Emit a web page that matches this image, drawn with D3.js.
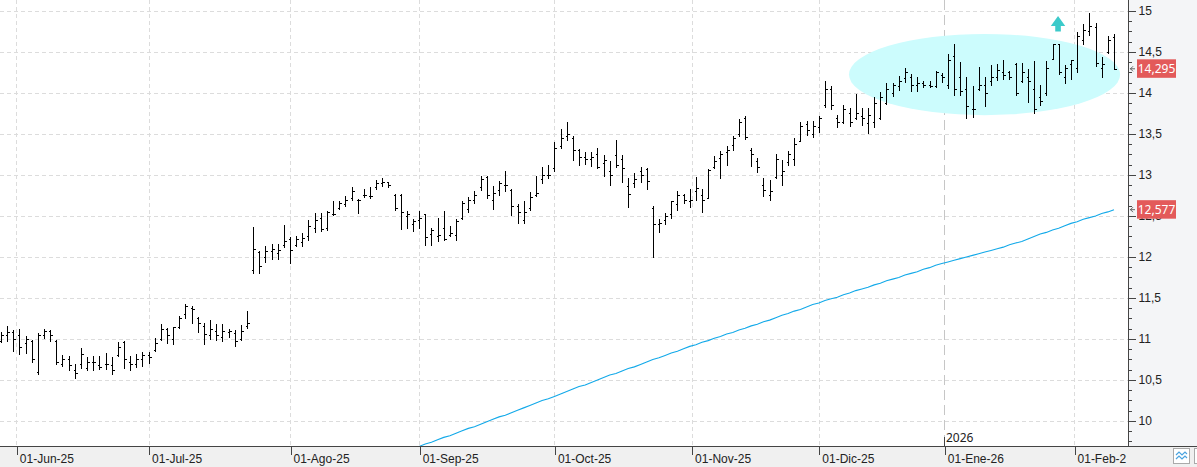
<!DOCTYPE html>
<meta charset="utf-8">
<style>
body { margin: 0; background: #fff; }
svg { display: block; font-family: "Noto Sans", "Open Sans", sans-serif; }
.grid line { stroke: #dcdcdc; stroke-dasharray: 4,3; shape-rendering: crispEdges; }
.bar { stroke: #000; fill: none; shape-rendering: crispEdges; }
.axis text { font-size: 12px; fill: #222; }
.axis line, .axis path { stroke: #444; shape-rendering: crispEdges; }
</style>
<body>
<script src="https://d3js.org/d3.v7.min.js"></script>
<script>

// month ticks (bar index of the first session of each month)
var tickLabels = ["01-Jun-25", "01-Jul-25", "01-Ago-25", "01-Sep-25", "01-Oct-25",
                  "01-Nov-25", "01-Dic-25", "01-Ene-26", "01-Feb-2"];
var tickIdx = [2.5, 24, 47, 68, 90, 112.3, 133, 153.4, 174.5];

// daily OHLC, one value per session
var highs = [11.10,11.17,11.12,11.14,11.05,11.00,11.09,11.13,11.12,11.00, 10.82,10.81,10.71,10.90,10.79,10.80,10.80,10.84,10.79,10.97,
  10.99,10.81,10.83,10.85,10.85,11.03,11.19,11.15,11.16,11.29, 11.44,11.42,11.28,11.21,11.24,11.19,11.19,11.14,11.12,11.18, 11.35,
  12.38,12.09,12.15,12.17,12.17,12.40,12.26,12.27,12.31,12.46, 12.55,12.55,12.57,12.69,12.70,12.76,12.86,12.72,12.84,12.86,
  12.95,12.98,12.93,12.78,12.78,12.57,12.47,12.57,12.53,12.37, 12.49,12.57,12.39,12.47,12.69,12.74,12.82,13.00,13.00,12.88,
  12.94,13.06,12.84,12.66,12.70,12.80,13.00,
  13.11,13.13,13.42,13.57,13.66,13.49,13.33,13.29,13.29,13.34, 13.26,13.18,13.44,13.26,12.97,13.04,13.11,13.10,12.63,12.47,
  12.55,12.70,12.82,12.78,12.84,12.99,12.84,13.08,13.24,13.31, 13.37,13.49,13.70,13.73,13.34,13.22,12.97,12.95,13.27,13.19,
  13.31,13.46,13.66,13.67,13.67,13.73,14.16,14.10,13.74,
  13.87,13.83,14.00,13.83,13.83,13.96,14.02,14.14,14.14,14.22, 14.32,14.24,14.21,14.16,14.16,14.28,14.25,14.49,14.61,14.39,
  14.21,14.10,14.33,14.21,14.35,14.37,14.41,14.28,14.38,14.38, 14.30,14.40,14.11,14.40,14.61,14.61,14.35,14.42,14.76,14.85,
  14.99,14.87,14.45,14.71,14.73];

var lows = [10.96,10.97,10.85,10.82,10.83,10.72,10.57,11.01,10.97,10.70, 10.67,10.62,10.52,10.65,10.62,10.62,10.64,10.64,10.57,10.79,
  10.65,10.62,10.66,10.67,10.71,10.85,10.99,10.95,10.94,11.13, 11.25,11.20,11.08,10.94,11.00,10.99,10.97,11.03,10.91,10.99, 11.14,
  11.81,11.80,11.94,11.97,11.98,12.12,11.93,12.13,12.13,12.21, 12.30,12.32,12.33,12.51,12.59,12.62,12.70,12.54,12.73,12.72,
  12.83,12.87,12.85,12.57,12.34,12.35,12.32,12.35,12.15,12.15, 12.19,12.21,12.25,12.21,12.46,12.55,12.66,12.82,12.72,12.58,
  12.76,12.80,12.51,12.41,12.41,12.57,12.74,
  12.90,12.96,13.05,13.33,13.43,13.18,13.12,13.14,13.11,13.08, 12.99,12.88,13.10,12.91,12.61,12.85,12.91,12.83,12.00,12.30,
  12.40,12.48,12.57,12.66,12.61,12.70,12.55,12.72,13.09,12.96, 13.12,13.31,13.47,13.44,13.11,13.04,12.74,12.70,12.96,12.88,
  13.12,13.12,13.41,13.49,13.46,13.52,13.83,13.81,13.58,
  13.63,13.60,13.68,13.61,13.51,13.59,13.68,13.87,13.96,14.04, 14.14,14.02,14.02,14.07,14.07,14.07,14.14,14.06,13.97,13.97,
  13.69,13.71,14.04,13.84,14.10,14.16,14.17,14.17,13.97,14.13, 13.89,13.76,13.85,13.97,14.41,14.23,14.12,14.17,14.26,14.60,
  14.71,14.33,14.19,14.49,14.29];

var opens = [10.98,11.05,11.08,11.05,10.95,10.98,10.60,11.05,11.10,10.98, 10.70,10.75,10.62,10.70,10.65,10.72,10.68,10.70,10.68,10.80,
  10.96,10.72,10.70,10.76,10.80,10.86,11.00,11.12,11.00,11.15, 11.30,11.38,11.25,11.16,11.05,11.10,11.02,11.08,11.07,11.00, 11.16,
  11.84,12.06,12.00,12.07,12.05,12.15,12.22,12.15,12.18,12.25, 12.35,12.48,12.35,12.52,12.60,12.65,12.72,12.70,12.75,12.74,
  12.85,12.90,12.92,12.76,12.75,12.50,12.40,12.45,12.52,12.28, 12.25,12.35,12.27,12.27,12.47,12.58,12.70,12.85,12.98,12.70,
  12.82,12.88,12.82,12.62,12.45,12.60,12.75,
  12.95,13.00,13.08,13.35,13.47,13.45,13.30,13.22,13.20,13.25, 13.15,13.05,13.24,13.20,12.86,12.90,13.05,13.07,12.60,12.40,
  12.45,12.52,12.65,12.75,12.68,12.80,12.75,12.72,13.10,13.21, 13.28,13.37,13.50,13.70,13.30,13.17,12.88,12.75,12.98,13.00,
  13.16,13.20,13.42,13.62,13.50,13.58,13.85,14.05,13.70,
  13.65,13.75,13.70,13.72,13.63,13.65,13.70,13.88,14.00,14.08, 14.18,14.20,14.10,14.12,14.10,14.08,14.22,14.10,14.45,14.20,
  14.05,13.80,14.05,14.10,14.15,14.20,14.25,14.25,14.35,14.15, 14.20,14.05,13.95,14.00,14.42,14.60,14.20,14.35,14.30,14.65,
  14.75,14.80,14.30,14.50,14.68];

var closes = [11.05,11.08,11.00,10.90,11.00,10.75,11.05,11.10,11.05,10.72, 10.75,10.68,10.58,10.82,10.72,10.72,10.66,10.70,10.62,10.90,
  10.75,10.70,10.76,10.80,10.78,10.95,11.12,11.05,11.15,11.25, 11.40,11.37,11.20,11.06,11.12,11.05,11.10,11.10,10.98,11.10, 11.19,
  12.10,11.89,12.07,12.10,12.08,12.20,12.08,12.22,12.23,12.38, 12.45,12.34,12.55,12.52,12.66,12.70,12.80,12.70,12.75,12.74,
  12.90,12.92,12.88,12.60,12.55,12.52,12.44,12.47,12.24,12.33, 12.27,12.22,12.29,12.44,12.66,12.70,12.75,12.95,12.76,12.78,
  12.90,12.88,12.62,12.55,12.55,12.73,12.78,
  13.00,13.00,13.33,13.45,13.50,13.30,13.22,13.20,13.22,13.10, 13.18,13.00,13.12,13.08,12.77,12.95,13.00,12.93,12.40,12.42,
  12.50,12.68,12.76,12.70,12.70,12.84,12.70,13.06,13.17,13.25, 13.30,13.45,13.65,13.46,13.25,13.10,12.82,12.80,13.20,13.05,
  13.25,13.38,13.60,13.55,13.60,13.70,14.05,13.85,13.65,
  13.80,13.65,13.76,13.70,13.73,13.88,13.95,14.05,14.10,14.15, 14.25,14.10,14.12,14.10,14.08,14.25,14.20,14.40,14.05,14.03,
  13.84,13.80,14.10,14.00,14.20,14.28,14.22,14.20,14.00,14.25, 14.15,13.80,13.90,14.30,14.60,14.25,14.30,14.40,14.70,14.77,
  14.82,14.37,14.35,14.65,14.295];

// moving average, starting at session maStart
var maStart = 66;
var maValues = [9.64,9.67,9.69,9.72,9.74,9.77,9.80,9.82,9.85,9.88,
  9.91,9.93,9.96,9.99,10.02,10.05,10.07,10.10,10.13,10.16,
  10.19,10.22,10.25,10.27,10.30,10.33,10.36,10.39,10.42,10.44,
  10.47,10.50,10.53,10.56,10.58,10.61,10.64,10.66,10.69,10.72,
  10.75,10.77,10.80,10.83,10.85,10.88,10.91,10.93,10.96,10.98,
  11.01,11.03,11.06,11.08,11.11,11.13,11.16,11.18,11.21,11.23,
  11.26,11.29,11.31,11.34,11.36,11.39,11.42,11.44,11.47,11.49,
  11.51,11.54,11.56,11.59,11.61,11.63,11.66,11.68,11.71,11.73,
  11.75,11.78,11.80,11.82,11.85,11.87,11.90,11.92,11.94,11.96,
  11.98,12.00,12.02,12.04,12.06,12.08,12.10,12.12,12.15,12.17,
  12.19,12.22,12.25,12.28,12.30,12.33,12.35,12.38,12.41,12.43,
  12.46,12.48,12.50,12.53,12.55,12.577];

// last-value labels
var lastLabels = [{v: 14.295, text: "14,295"}, {v: 12.577, text: "12,577"}];

// annotations: range ellipse and breakout arrow (bar index / price)
var zoneIdx = [137.9, 182], zoneVal = [13.73, 14.72];
var arrowIdx = 171.9, arrowVal = [14.94, 14.75];

var W = 1197, H = 467;
var plotR = 1128, plotB = 446;

var svg = d3.select("body").append("svg").attr("width", W).attr("height", H);

var x = d3.scaleLinear().domain([0, highs.length - 1]).range([1, 1114]);
var y = d3.scaleLinear().domain([9.695, 15]).range([plotB, 11]);
var px = function(i) { return Math.round(x(i)) + 0.5; };
var py = function(v) { return Math.round(y(v)) + 0.5; };

// panels
svg.append("rect").attr("x", plotR).attr("y", 0).attr("width", W - plotR).attr("height", plotB).attr("fill", "#f4f5f7");
svg.append("rect").attr("x", 0).attr("y", plotB).attr("width", W).attr("height", H - plotB).attr("fill", "#f0f0f0");

svg.append("clipPath").attr("id", "plot").append("rect")
  .attr("x", 0).attr("y", 0).attr("width", plotR).attr("height", plotB);
var plot = svg.append("g").attr("clip-path", "url(#plot)");

// grid
var majors = d3.range(10, 15.01, 0.5);
var grid = plot.append("g").attr("class", "grid");
grid.selectAll(".h").data(majors).enter().append("line")
  .attr("x1", 0).attr("x2", plotR).attr("y1", d => py(d)).attr("y2", d => py(d));
grid.selectAll(".v").data(tickIdx).enter().append("line")
  .attr("x1", d => px(d)).attr("x2", d => px(d)).attr("y1", 0).attr("y2", plotB)
  .style("stroke", (d, i) => tickLabels[i].indexOf("Ene") >= 0 ? "#c6c6c6" : null)
  .style("stroke-dasharray", (d, i) => tickLabels[i].indexOf("Ene") >= 0 ? "10,5" : null);

// range ellipse
plot.append("ellipse")
  .attr("cx", (x(zoneIdx[0]) + x(zoneIdx[1])) / 2)
  .attr("cy", (y(zoneVal[0]) + y(zoneVal[1])) / 2)
  .attr("rx", (x(zoneIdx[1]) - x(zoneIdx[0])) / 2)
  .attr("ry", (y(zoneVal[0]) - y(zoneVal[1])) / 2)
  .attr("fill", "#ccfcfd");

// arrow
var ax = x(arrowIdx), aTop = y(arrowVal[0]), aBot = y(arrowVal[1]);
plot.append("path")
  .attr("d", "M" + ax + "," + aTop + "L" + (ax + 7.2) + "," + (aTop + 10) + "H" + (ax + 2.8) +
             "V" + aBot + "H" + (ax - 2.8) + "V" + (aTop + 10) + "H" + (ax - 7.2) + "Z")
  .attr("fill", "#3ccaca");

// moving average
var ma = maValues.map((v, k) => [maStart + k, v]);
plot.append("path").datum(ma)
  .attr("fill", "none").attr("stroke", "#12a9e9").attr("stroke-width", 1.1)
  .attr("d", d3.line().x(d => x(d[0])).y(d => y(d[1])));

// OHLC bars
plot.selectAll(".bar").data(highs).enter().append("path")
  .attr("class", "bar")
  .attr("d", function(h, i) {
    var cx = px(i);
    return "M" + cx + "," + py(h) + "V" + py(lows[i]) +
           "M" + (cx - 2) + "," + py(opens[i]) + "H" + cx +
           "M" + cx + "," + py(closes[i]) + "H" + (cx + 2);
  });

// bottom axis
var xAxis = d3.axisBottom(x).tickValues(tickIdx).tickSize(9).tickFormat((d, i) => tickLabels[i]);
var gx = svg.append("g").attr("class", "axis").attr("transform", "translate(0," + plotB + ")").call(xAxis);
gx.select(".domain").remove();
gx.selectAll(".tick line").attr("transform", "translate(0.5,0)");
gx.selectAll(".tick text").attr("text-anchor", "start").attr("x", 3).attr("y", 8).attr("dy", "0.71em");
svg.append("line").attr("x1", 0).attr("x2", W).attr("y1", plotB + 0.5).attr("y2", plotB + 0.5)
  .attr("stroke", "#444").style("shape-rendering", "crispEdges");

// year marker
var jan = tickIdx[tickLabels.findIndex(t => t.indexOf("Ene") >= 0)];
svg.append("line").attr("x1", px(jan)).attr("x2", px(jan)).attr("y1", plotB - 9).attr("y2", plotB)
  .attr("stroke", "#444").style("shape-rendering", "crispEdges");
svg.append("text").attr("x", px(jan) + 1.5).attr("y", plotB - 4)
  .attr("font-size", 12).attr("fill", "#222").text("2026");

// right axis
var fmt = d => String(+d.toFixed(2)).replace(".", ",");
var yAxis = d3.axisRight(y).tickValues(majors).tickSize(7).tickPadding(3).tickFormat(fmt);
var gy = svg.append("g").attr("class", "axis").attr("transform", "translate(" + (plotR + 0.5) + ",0)").call(yAxis);
gy.select(".domain").remove();
gy.selectAll(".tick").attr("transform", d => "translate(0," + py(d) + ")");
var minors = d3.range(9.75, 15, 0.125).filter(v => Math.abs(v * 2 - Math.round(v * 2)) > 1e-6);
gy.selectAll(".minor").data(minors).enter().append("line")
  .attr("x1", 0).attr("x2", 3).attr("y1", d => py(d)).attr("y2", d => py(d));
svg.append("line").attr("x1", plotR + 0.5).attr("x2", plotR + 0.5).attr("y1", 0).attr("y2", plotB)
  .attr("stroke", "#444").style("shape-rendering", "crispEdges");

// last value boxes
var lab = svg.selectAll(".last").data(lastLabels).enter().append("g")
  .attr("transform", d => "translate(0," + y(d.v) + ")");
lab.append("path").attr("d", "M1135,0H1130M1133,-2.5L1130.5,0L1133,2.5")
  .attr("stroke", "#555").attr("fill", "none").attr("stroke-width", 0.9);
lab.append("rect").attr("x", 1137).attr("y", -9.5).attr("width", 39).attr("height", 18.5).attr("fill", "#e35a5a");
lab.append("text").attr("x", 1156.5).attr("y", 0).attr("dy", "0.35em").attr("text-anchor", "middle")
  .attr("font-size", 12).attr("fill", "#fff").text(d => d.text);

// corner button
svg.append("rect").attr("x", 1173.5).attr("y", 448.5).attr("width", 16).attr("height", 15)
  .attr("fill", "#fff").attr("stroke", "#aaa");
svg.append("path").attr("d", "M1176,455L1179,452L1182,455L1185,452L1187,454M1176,459L1179,456L1182,459L1185,456L1187,458")
  .attr("fill", "none").attr("stroke", "#4aa3df").attr("stroke-width", 1.2);
svg.append("rect").attr("x", 1194.5).attr("y", 448.5).attr("width", 16).attr("height", 15)
  .attr("fill", "#fff").attr("stroke", "#aaa");

</script>
</body>
